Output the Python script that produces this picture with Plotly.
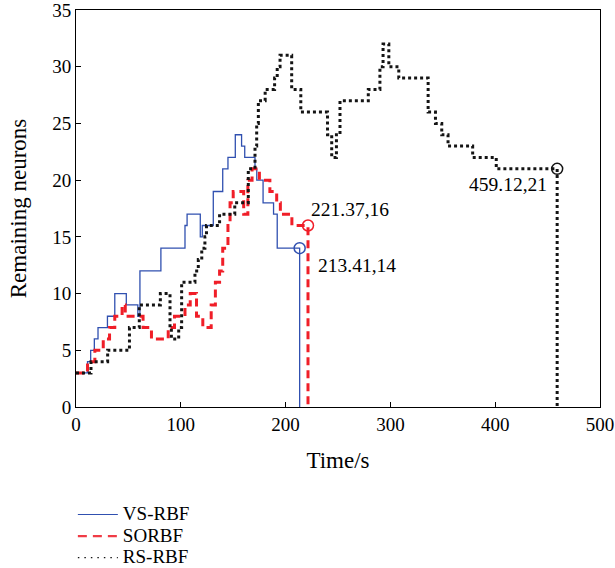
import plotly.graph_objects as go

# VS-RBF step data (time, remaining neurons)
vs_t = [0, 11, 14, 17.5, 21, 30, 37, 48, 59, 61, 81, 104, 106, 118.6, 120.5, 131, 140, 145, 152, 158, 161, 170.8, 172.5, 178.5, 188.5, 192, 213.41, 213.41]
vs_n = [3, 4, 5, 6, 7, 8, 10, 9, 8, 12, 14, 16, 17, 15, 16, 19, 21, 22, 24, 23, 22, 21, 20, 18, 17, 14, 14, 0]

# SORBF step data
so_t = [0, 11, 18, 26, 32, 37, 44, 47, 64, 72, 88, 94, 104, 109, 115, 121, 129, 133, 137, 140, 145, 147, 150, 160, 164, 168, 175, 185, 191.5, 195, 206, 221.37, 221.37]
so_n = [3, 4, 5, 6, 7, 8, 9, 8, 7, 6, 7, 8, 9, 10, 8, 7, 9, 11, 12, 14, 16, 18, 19, 17, 20, 21, 20, 19, 18, 17, 16, 16, 0]

# RS-RBF step data
rs_t = [0, 14.3, 30.2, 51, 60.4, 80.5, 89.7, 91, 98, 100.8, 113.5, 116.7, 120, 123, 124.5, 137, 151.5, 164.4, 170.8, 172.4, 174, 180.5, 189.5, 192, 194.7, 205.8, 214.5, 240, 244, 248.5, 251.9, 278.9, 290, 293, 298.5, 308, 336, 343, 349, 355, 378.5, 401, 459.12, 459.12]
rs_n = [3, 4, 5, 7, 9, 10, 7, 6, 7, 11, 12, 13, 14, 15, 16, 17, 18, 21, 23, 25, 27, 28, 29, 30, 31, 28, 26, 24, 22, 24, 27, 28, 30, 32, 30, 29, 26, 25, 24, 23, 22, 21, 21, 0]

# End-point labels
end_x = [213.41, 221.37, 459.12]
end_y = [14, 16, 21]
end_text = ["213.41,14", "221.37,16", "459.12,21"]

series_names = ["VS-RBF", "SORBF", "RS-RBF"]
x_ticks = [0, 100, 200, 300, 400, 500]
y_ticks = [0, 5, 10, 15, 20, 25, 30, 35]

BLUE = "rgb(48,80,176)"
RED = "rgb(240,30,40)"
BLACK = "rgb(20,20,20)"
FONT = "Liberation Serif"


def big(s):
    return "<span style='font-size:19px'>" + s + "</span>"


fig = go.Figure()
# main curves
fig.add_trace(go.Scatter(x=vs_t, y=vs_n, mode="lines", line_shape="hv", showlegend=False,
                         line=dict(color=BLUE, width=1.3), name=series_names[0]))
fig.add_trace(go.Scatter(x=so_t, y=so_n, mode="lines", line_shape="hv", showlegend=False,
                         line=dict(color=RED, width=3, dash="8px,5px"), name=series_names[1]))
fig.add_trace(go.Scatter(x=rs_t, y=rs_n, mode="lines", line_shape="hv", showlegend=False,
                         line=dict(color=BLACK, width=3, dash="dot"), name=series_names[2]))

# legend entries (thinner strokes, as in the reference legend)
leg_styles = [dict(color=BLUE, width=1.2),
              dict(color="rgb(240,60,70)", width=2.2, dash="9px,6px"),
              dict(color=BLACK, width=1.3, dash="1.5px,5px")]
for i in range(3):
    fig.add_trace(go.Scatter(x=[None], y=[None], mode="lines", line=leg_styles[i],
                             name=big(series_names[i]), showlegend=True))

marker_colors = [BLUE, RED, BLACK]
for i in range(3):
    fig.add_trace(go.Scatter(x=[end_x[i]], y=[end_y[i]], mode="markers", showlegend=False,
                             marker=dict(symbol="circle-open", size=11, color=marker_colors[i],
                                         line=dict(width=1.5, color=marker_colors[i]))))

# labels
LF = dict(family=FONT, size=19.5, color="black")
fig.add_annotation(x=end_x[0] + 15.5, y=end_y[0] - 1.5, text=end_text[0], showarrow=False,
                   xanchor="left", yanchor="middle", font=LF)
fig.add_annotation(x=end_x[1] + 1, y=end_y[1] + 1.45, text=end_text[1], showarrow=False,
                   xanchor="left", yanchor="middle", font=LF)
fig.add_annotation(x=end_x[2] - 7.8, y=end_y[2] - 1.35, text=end_text[2], showarrow=False,
                   xanchor="right", yanchor="middle", font=LF)

fig.update_layout(
    width=615, height=568,
    margin=dict(l=76, r=15, t=10, b=161, autoexpand=False),
    paper_bgcolor="white", plot_bgcolor="white",
    font=dict(family=FONT, size=19, color="black"),
    showlegend=True,
    legend=dict(orientation="v", x=-0.006, xanchor="left", y=-0.231, yanchor="top",
                font=dict(family=FONT, size=14.3), tracegroupgap=0, itemwidth=40,
                bgcolor="rgba(0,0,0,0)"),
)
fig.update_xaxes(range=[0, 500], tickvals=x_ticks, ticks="inside", ticklen=5, tickcolor="black",
                 showline=True, linecolor="black", linewidth=1, mirror=True, showgrid=False,
                 zeroline=False, automargin=False, ticklabeloverflow="allow",
                 title=dict(text="Time/s", standoff=18),
                 tickfont=dict(family=FONT, size=19))
fig.update_yaxes(range=[0, 35], tickvals=y_ticks, ticks="inside", ticklen=5, tickcolor="black",
                 showline=True, linecolor="black", linewidth=1, mirror=True, showgrid=False,
                 zeroline=False, automargin=False, ticklabeloverflow="allow",
                 title=dict(text="Remaining neurons", standoff=19),
                 tickfont=dict(family=FONT, size=19))

fig.write_html("out.html")
